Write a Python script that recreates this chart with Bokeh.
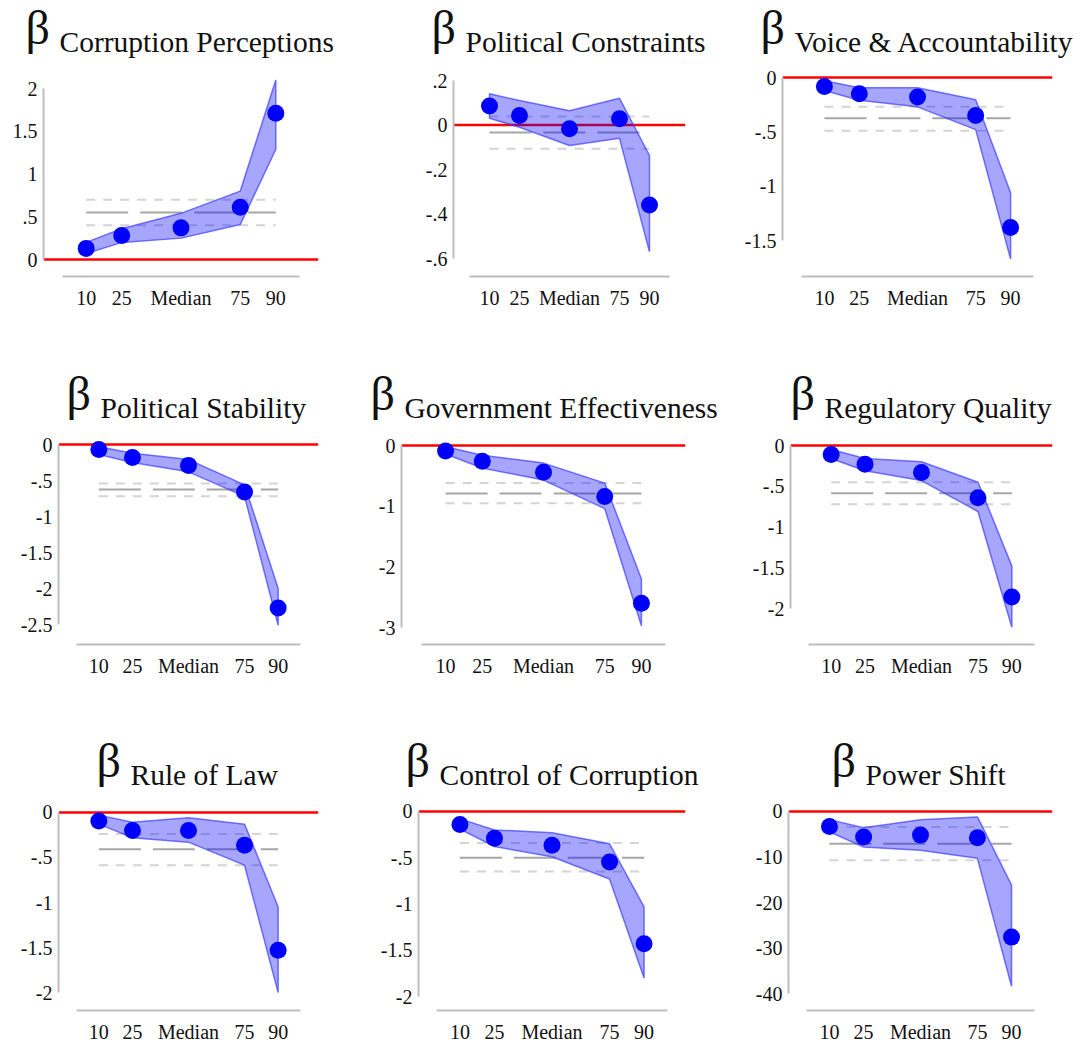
from bokeh.plotting import figure
from bokeh.models import Span, FixedTicker
from bokeh.core.properties import value
from bokeh.layouts import column, row
from bokeh.embed import file_html
from bokeh.resources import INLINE

# Quantiles of the regression and their axis labels
quantiles = [10, 25, 50, 75, 90]
quantile_labels = ["10", "25", "Median", "75", "90"]

# Quantile regression coefficients (estimate, lower and upper 95% bounds)
# and the OLS estimate with its confidence interval, one set per indicator.
cp_est = [0.13, 0.28, 0.37, 0.61, 1.71]
cp_lo = [0.07, 0.20, 0.25, 0.41, 1.29]
cp_hi = [0.20, 0.36, 0.54, 0.80, 2.10]
cp_ols = [0.55, 0.40, 0.70]

pc_est = [0.085, 0.043, -0.017, 0.028, -0.36]
pc_lo = [0.03, -0.01, -0.092, -0.06, -0.57]
pc_hi = [0.14, 0.11, 0.064, 0.12, -0.137]
pc_ols = [-0.034, -0.107, 0.038]

va_est = [-0.083, -0.15, -0.18, -0.35, -1.38]
va_lo = [-0.12, -0.21, -0.27, -0.48, -1.67]
va_hi = [-0.03, -0.095, -0.095, -0.205, -1.06]
va_ols = [-0.374, -0.49, -0.27]

ps_est = [-0.07, -0.18, -0.29, -0.66, -2.27]
ps_lo = [-0.14, -0.25, -0.38, -0.72, -2.51]
ps_hi = [-0.03, -0.12, -0.21, -0.56, -2.0]
ps_ols = [-0.625, -0.72, -0.54]

ge_est = [-0.09, -0.26, -0.44, -0.84, -2.6]
ge_lo = [-0.14, -0.37, -0.57, -1.04, -2.97]
ge_hi = [-0.02, -0.16, -0.29, -0.62, -2.2]
ge_ols = [-0.79, -0.95, -0.62]

rq_est = [-0.11, -0.23, -0.33, -0.64, -1.86]
rq_lo = [-0.16, -0.31, -0.43, -0.81, -2.23]
rq_hi = [-0.05, -0.16, -0.2, -0.45, -1.48]
rq_ols = [-0.585, -0.72, -0.45]

rl_est = [-0.096, -0.2, -0.2, -0.365, -1.53]
rl_lo = [-0.13, -0.28, -0.33, -0.585, -2.0]
rl_hi = [-0.03, -0.11, -0.06, -0.13, -1.05]
rl_ols = [-0.41, -0.585, -0.24]

cc_est = [-0.14, -0.29, -0.365, -0.545, -1.43]
cc_lo = [-0.19, -0.38, -0.49, -0.73, -1.8]
cc_hi = [-0.08, -0.2, -0.23, -0.35, -1.03]
cc_ols = [-0.5, -0.65, -0.34]

psh_est = [-3.3, -5.6, -5.2, -5.8, -27.6]
psh_lo = [-4.5, -7.8, -8.5, -10.3, -38.4]
psh_hi = [-1.8, -3.6, -1.8, -1.2, -16.2]
psh_ols = [-7.1, -10.7, -3.4]

titles = ["Corruption Perceptions", "Political Constraints", "Voice & Accountability",
          "Political Stability", "Government Effectiveness", "Regulatory Quality",
          "Rule of Law", "Control of Corruption", "Power Shift"]

y_ticks = [
    [0, 0.5, 1, 1.5, 2],
    [0.2, 0, -0.2, -0.4, -0.6],
    [0, -0.5, -1, -1.5],
    [0, -0.5, -1, -1.5, -2, -2.5],
    [0, -1, -2, -3],
    [0, -0.5, -1, -1.5, -2],
    [0, -0.5, -1, -1.5, -2],
    [0, -0.5, -1, -1.5, -2],
    [0, -10, -20, -30, -40],
]

series = [
    (cp_est, cp_lo, cp_hi, cp_ols), (pc_est, pc_lo, pc_hi, pc_ols),
    (va_est, va_lo, va_hi, va_ols), (ps_est, ps_lo, ps_hi, ps_ols),
    (ge_est, ge_lo, ge_hi, ge_ols), (rq_est, rq_lo, rq_hi, rq_ols),
    (rl_est, rl_lo, rl_hi, rl_ols), (cc_est, cc_lo, cc_hi, cc_ols),
    (psh_est, psh_lo, psh_hi, psh_ols),
]

# ---- page geometry (pixels) ----
PAGE_W = 1081
COLS = [(0, 360), (360, 711), (711, 1081)]
ROWS = [(0, 345), (345, 712), (712, 1045)]
STRIP_BOTTOM = [64, 430, 798]                        # title strip ends / plot frame starts
FRAME_BOTTOM = [276, 644, 1011]                      # x-axis line per row
NAME_BASE = [51, 417, 784]                           # title baseline per row
AXIS_X = [43, 453, 782, 58, 401, 790, 58, 418, 788]  # y-axis position per panel
FRAME_R = [318, 685, 1052, 318, 685, 1052, 318, 685, 1052]
TITLE_X = [27, 433, 762, 68, 372, 792, 98, 407, 833]
# pixel rows of the top and bottom y ticks per panel
TICK_PX = [(88, 259), (80, 258), (77, 240), (444, 624), (445, 627),
           (445, 608), (812, 993), (811, 997), (811, 994)]
X_RANGE = (-8, 108)
BETA_SIZE, NAME_SIZE = 48, 29.5
# the text glyph anchors near the middle of the line box; lift to the baseline
BETA_LIFT, NAME_LIFT = 17, 10

SERIF = "Liberation Serif"
TXT = "#111111"
AXIS_GREY = "#bdbdbd"


def stata_label(v):
    s = "%g" % v
    if s.startswith("0."):
        s = s[1:]
    elif s.startswith("-0."):
        s = "-" + s[2:]
    return s


def bare(fig):
    fig.grid.visible = False
    fig.outline_line_color = None
    fig.background_fill_color = "white"
    fig.border_fill_color = "white"
    return fig


def make_title_strip(r):
    """One strip per row holding the three panel titles (data units = pixels)."""
    ry0 = ROWS[r][0]
    sb = STRIP_BOTTOM[r]
    h = sb - ry0
    t = bare(figure(width=PAGE_W, height=h, x_range=(0, PAGE_W), y_range=(0, h),
                    x_axis_type=None, y_axis_type=None,
                    output_backend="svg", toolbar_location=None,
                    min_border=0))
    base = NAME_BASE[r]
    idx = range(3 * r, 3 * r + 3)
    # beta, with the indicator name set lower as a subscript
    t.text(x=[TITLE_X[i] - 2 for i in idx], y=[sb - (base - 7) + BETA_LIFT] * 3,
           text=["β"] * 3,
           text_font=value(SERIF), text_font_size=value(f"{BETA_SIZE}px"),
           text_color=TXT, text_baseline=value("alphabetic"), text_align=value("left"))
    t.text(x=[TITLE_X[i] + 32 for i in idx], y=[sb - base + NAME_LIFT] * 3,
           text=[titles[i] for i in idx],
           text_font=value(SERIF), text_font_size=value(f"{NAME_SIZE}px"),
           text_color=TXT, text_baseline=value("alphabetic"), text_align=value("left"))
    return t


def make_panel(i):
    r, c = divmod(i, 3)
    cx0, cx1 = COLS[c]
    ry1 = ROWS[r][1]
    ftop, fbot = STRIP_BOTTOM[r], FRAME_BOTTOM[r]
    ticks = y_ticks[i]
    t_hi, t_lo = max(ticks), min(ticks)
    px_hi, px_lo = TICK_PX[i]
    ppu = (px_lo - px_hi) / (t_hi - t_lo)
    y_start = t_lo - (fbot - px_lo) / ppu
    y_end = t_hi + (px_hi - ftop) / ppu

    p = bare(figure(width=cx1 - cx0, height=ry1 - ftop,
                    x_range=X_RANGE, y_range=(y_start, y_end),
                    output_backend="svg", toolbar_location=None,
                    min_border_left=AXIS_X[i] - cx0, min_border_right=cx1 - FRAME_R[i],
                    min_border_top=0, min_border_bottom=ry1 - fbot))

    est, lo, hi, ols = series[i]

    # zero reference line
    p.add_layout(Span(location=0, dimension="width", line_color="#ff0000",
                      line_width=2.5, level="underlay"))

    # OLS estimate and its confidence interval
    xq = [quantiles[0], quantiles[-1]]
    p.line(xq, [ols[0], ols[0]], line_color="#a6a6a6", line_width=2, line_dash="42 12")
    p.line(xq, [ols[1], ols[1]], line_color="#d4d4d4", line_width=2, line_dash="9 8")
    p.line(xq, [ols[2], ols[2]], line_color="#d4d4d4", line_width=2, line_dash="9 8")

    # quantile confidence band
    p.patch(quantiles + quantiles[::-1], hi + lo[::-1],
            fill_color="#0000ff", fill_alpha=0.35,
            line_color="#3c3cff", line_alpha=0.7, line_width=1.5)

    # quantile estimates
    p.scatter(quantiles, est, size=17, fill_color="#0000ff", line_color=None)

    # axes
    xa = p.xaxis[0]
    xa.ticker = FixedTicker(ticks=quantiles)
    xa.major_label_overrides = {q: lab for q, lab in zip(quantiles, quantile_labels)}
    xa.bounds = (0, 100)
    ya = p.yaxis[0]
    ya.ticker = FixedTicker(ticks=ticks)
    ya.major_label_overrides = {t: stata_label(t) for t in ticks}
    ya.bounds = (t_lo, t_hi)
    for ax in (xa, ya):
        ax.axis_line_color = AXIS_GREY
        ax.axis_line_width = 2
        ax.major_tick_line_color = None
        ax.minor_tick_line_color = None
        ax.major_tick_out = 0
        ax.major_tick_in = 0
        ax.major_label_text_font = SERIF
        ax.major_label_text_font_size = "20px"
        ax.major_label_text_color = TXT
    xa.major_label_standoff = 10
    ya.major_label_standoff = 6
    return p


rows = []
for r in range(3):
    rows.append(make_title_strip(r))
    rows.append(row([make_panel(i) for i in range(3 * r, 3 * r + 3)]))
layout = column(rows)

open("out.html", "w").write(file_html(layout, INLINE))
